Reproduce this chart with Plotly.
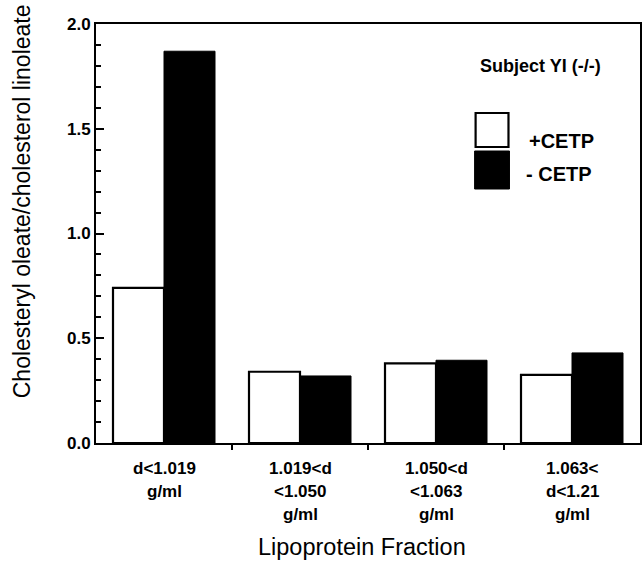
import plotly.graph_objects as go

# ---- data ----
categories = ["d<1.019 g/ml", "1.019<d <1.050 g/ml", "1.050<d <1.063 g/ml", "1.063< d<1.21 g/ml"]
tick_label_lines = [
    ["d<1.019", "g/ml"],
    ["1.019<d", "<1.050", "g/ml"],
    ["1.050<d", "<1.063", "g/ml"],
    ["1.063<", "d<1.21", "g/ml"],
]
plus_cetp = [0.74, 0.34, 0.38, 0.325]
minus_cetp = [1.87, 0.32, 0.395, 0.43]
series_names = ["+CETP", "- CETP"]
y_ticks = [0.0, 0.5, 1.0, 1.5, 2.0]

x_pos = list(range(len(categories)))

FONT = "Liberation Sans, Arial, Helvetica, sans-serif"

# plot-area geometry in pixels (for placing texts in paper coordinates)
L, R, T, B = 96, 642, 24, 443
PW, PH = R - L, B - T


def px(xp):
    return (xp - L) / PW


def py(yp):
    return (B - yp) / PH


fig = go.Figure()
fig.add_trace(go.Bar(
    x=x_pos, y=plus_cetp, name=series_names[0],
    marker=dict(color="white", line=dict(color="black", width=2.2)),
    showlegend=False,
))
fig.add_trace(go.Bar(
    x=x_pos, y=minus_cetp, name=series_names[1],
    marker=dict(color="black", line=dict(color="black", width=1)),
    showlegend=False,
))

fig.update_layout(
    width=643, height=561,
    margin=dict(l=L, r=643 - R, t=T, b=561 - B),
    paper_bgcolor="white", plot_bgcolor="white",
    barmode="group", bargap=0.25, bargroupgap=0.0,
    font=dict(family=FONT, color="black"),
)

fig.update_xaxes(
    range=[-0.5, len(categories) - 0.5],
    showticklabels=False, ticks="", showgrid=False, zeroline=False,
    showline=True, linecolor="black", linewidth=2, mirror=True,
    minor=dict(tickvals=[i + 0.5 for i in range(len(categories) - 1)],
               ticks="outside", ticklen=5, tickwidth=2, tickcolor="black"),
)
fig.update_yaxes(
    range=[0, 2.0], tickvals=y_ticks, tickformat=".1f",
    ticks="inside", ticklen=8, tickwidth=2, tickcolor="black",
    tickfont=dict(size=17, family=FONT, weight="bold"),
    showgrid=False, zeroline=False,
    showline=True, linecolor="black", linewidth=2, mirror=True,
    minor=dict(dtick=0.1, ticks="inside", ticklen=5, tickwidth=2, tickcolor="black"),
)

annotations = []
# multi-line category labels
for i, lines in enumerate(tick_label_lines):
    for j, line in enumerate(lines):
        annotations.append(dict(
            x=i, y=py(468 + j * 23), xref="x", yref="paper",
            text=line, showarrow=False, xanchor="center", yanchor="middle",
            font=dict(size=17, family=FONT, weight="bold"),
        ))
# axis titles
annotations.append(dict(
    x=px(363), y=py(547), xref="paper", yref="paper", text="Lipoprotein Fraction",
    showarrow=False, xanchor="center", yanchor="middle",
    font=dict(size=23.5, family=FONT),
))
annotations.append(dict(
    x=px(22), y=py(201), xref="paper", yref="paper",
    text="Cholesteryl oleate/cholesterol linoleate",
    showarrow=False, textangle=-90, xanchor="center", yanchor="middle",
    font=dict(size=23, family=FONT),
))
# subject label and legend
annotations.append(dict(
    x=px(542), y=py(66), xref="paper", yref="paper",
    text="Subject YI (-/-)", showarrow=False, xanchor="center", yanchor="middle",
    font=dict(size=18, family=FONT, weight="bold"),
))
annotations.append(dict(
    x=px(529), y=py(141), xref="paper", yref="paper",
    text=series_names[0], showarrow=False, xanchor="left", yanchor="middle",
    font=dict(size=20, family=FONT, weight="bold"),
))
annotations.append(dict(
    x=px(526), y=py(174), xref="paper", yref="paper",
    text=series_names[1], showarrow=False, xanchor="left", yanchor="middle",
    font=dict(size=20, family=FONT, weight="bold"),
))
fig.update_layout(annotations=annotations)

shapes = [
    dict(type="rect", xref="paper", yref="paper",
         x0=px(477), x1=px(510), y0=py(147), y1=py(113),
         fillcolor="white", line=dict(color="black", width=2.2)),
    dict(type="rect", xref="paper", yref="paper",
         x0=px(476), x1=px(511), y0=py(189), y1=py(151),
         fillcolor="black", line=dict(color="black", width=1)),
]
fig.update_layout(shapes=shapes)

fig.write_html("out.html", config={"displayModeBar": False},
               post_script="document.body.style.margin='0px';")
